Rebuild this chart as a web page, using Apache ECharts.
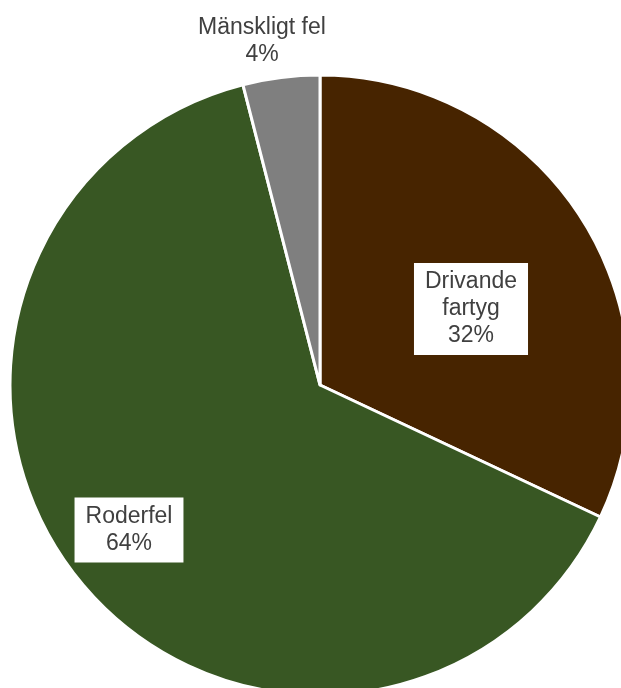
<!DOCTYPE html>
<html>
<head>
<meta charset="utf-8">
<style>
  html, body { margin: 0; padding: 0; background: #ffffff; }
  #chart { width: 621px; height: 688px; }
</style>
<script src="https://cdn.jsdelivr.net/npm/echarts@6/dist/echarts.min.js"></script>
</head>
<body>
<div id="chart"></div>
<script>
// Causes, share of incidents (%)
const categories = ['Drivande fartyg', 'Roderfel', 'Mänskligt fel'];
const shares = [32, 64, 4];
const colors = ['#472400', '#385723', '#7f7f7f'];

const cx = 320, cy = 385, R = 310;

const chart = echarts.init(document.getElementById('chart'), null, { renderer: 'canvas' });

const boxLabel = {
  show: true,
  position: 'inside',
  color: '#404040',
  fontFamily: 'Liberation Sans, Arial, sans-serif',
  fontSize: 23,
  lineHeight: 27,
  backgroundColor: '#ffffff',
  padding: [6, 11, 5, 11],
  align: 'center'
};

const data = categories.map((name, i) => {
  const item = { name: name, value: shares[i], itemStyle: { color: colors[i] } };
  if (i === 2) {
    item.label = {
      show: true,
      position: 'outside',
      color: '#404040',
      fontFamily: 'Liberation Sans, Arial, sans-serif',
      fontSize: 23,
      lineHeight: 27,
      align: 'center'
    };
    item.labelLine = { show: false };
  } else {
    item.label = boxLabel;
  }
  return item;
});

chart.setOption({
  backgroundColor: '#ffffff',
  animation: false,
  series: [{
    type: 'pie',
    center: [cx, cy],
    radius: [0, R],
    startAngle: 90,
    clockwise: true,
    avoidLabelOverlap: false,
    itemStyle: { borderColor: '#ffffff', borderWidth: 3 },
    label: {
      formatter: function (p) {
        const nm = p.dataIndex === 0 ? p.name.replace(' ', '\n') : p.name;
        return nm + '\n' + Math.round(p.percent) + '%';
      }
    },
    labelLayout: function (p) {
      if (p.dataIndex === 0) return { x: cx + 151, y: cy - 76, align: 'center', verticalAlign: 'middle' };
      if (p.dataIndex === 1) return { x: cx - 191, y: cy + 145, align: 'center', verticalAlign: 'middle' };
      return { x: cx - 58, y: 41, align: 'center', verticalAlign: 'middle' };
    },
    data: data
  }]
});
</script>
</body>
</html>
